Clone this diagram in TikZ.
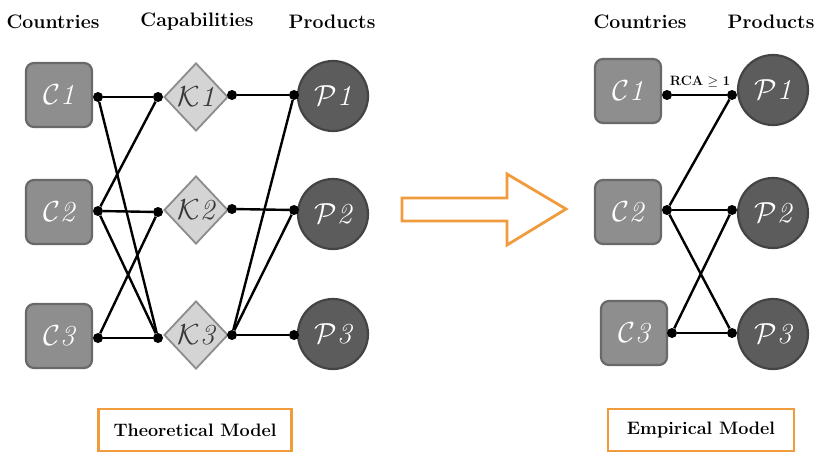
\RequirePackage{fix-cm}
\documentclass[tikz,border=0pt]{standalone}
\usepackage{fontspec}
\usetikzlibrary{shapes.geometric}
\definecolor{cfill}{RGB}{142,142,142}
\definecolor{cdraw}{RGB}{105,105,105}
\definecolor{pfill}{RGB}{92,92,92}
\definecolor{pdraw}{RGB}{68,68,68}
\definecolor{kfill}{RGB}{212,212,212}
\definecolor{kdraw}{RGB}{140,140,140}
\definecolor{ktext}{RGB}{55,55,55}
\definecolor{orng}{RGB}{240,155,60}
\newcommand{\hdrfont}{\fontsize{19.5}{22}\selectfont\bfseries}
\newcommand{\lblfont}{\fontsize{29}{31}\selectfont}
\newcommand{\mdlfont}{\fontsize{18}{20}\selectfont\bfseries}
\tikzset{
  cbox/.style={draw=cdraw, fill=cfill, line width=2.2pt, rounded corners=8pt, minimum width=66pt, minimum height=64pt, inner sep=0pt, text=white, font=\lblfont},
  pcirc/.style={circle, draw=pdraw, fill=pfill, line width=2.2pt, minimum size=70pt, inner sep=0pt, text=white, font=\lblfont},
  kdia/.style={diamond, draw=kdraw, fill=kfill, line width=1.8pt, minimum width=64pt, minimum height=68pt, inner sep=0pt, text=ktext, font=\lblfont},
  dot/.style={circle, fill=black, inner sep=0pt, minimum size=10pt},
  link/.style={line width=2.4pt},
  hdr/.style={font=\hdrfont},
  modelbox/.style={draw=orng, line width=2.8pt, fill=white, minimum height=42pt, font=\mdlfont},
}
\begin{document}
\begin{tikzpicture}[x=1pt,y=-1pt]
\useasboundingbox (0,0) rectangle (820,463);
% headers
\node[hdr] (hc) at (53,22) {Countries};
\node[hdr] (hk) at (197,22) {Capabilities};
\node[hdr] (hp) at (332,22) {Products};
\node[hdr] (hc2) at (640,22) {Countries};
\node[hdr] (hp2) at (771,22) {Products};
% left model nodes
\node[cbox] (c1) at (59,95) {$\mathcal{C}\mathit{1}$};
\node[cbox] (c2) at (59,212) {$\mathcal{C}\mathit{2}$};
\node[cbox] (c3) at (59,336) {$\mathcal{C}\mathit{3}$};
\node[kdia] (k1) at (196,97) {$\mathcal{K}\mathit{1}$};
\node[kdia] (k2) at (196,210) {$\mathcal{K}\mathit{2}$};
\node[kdia] (k3) at (196,335) {$\mathcal{K}\mathit{3}$};
\node[pcirc] (p1) at (333,96) {$\mathcal{P}\mathit{1}$};
\node[pcirc] (p2) at (333,214) {$\mathcal{P}\mathit{2}$};
\node[pcirc] (p3) at (333,334) {$\mathcal{P}\mathit{3}$};
% dots
\node[dot] (c1d) at (98,97) {};
\node[dot] (c2d) at (98,211) {};
\node[dot] (c3d) at (98,338) {};
\node[dot] (k1l) at (158,97) {};
\node[dot] (k2l) at (158,212) {};
\node[dot] (k3l) at (158,338) {};
\node[dot] (k1r) at (232,95) {};
\node[dot] (k2r) at (232,209) {};
\node[dot] (k3r) at (232,335) {};
\node[dot] (p1d) at (294,95) {};
\node[dot] (p2d) at (294,210) {};
\node[dot] (p3d) at (294,335) {};
% links
\draw[link] (c1d) -- (k1l);
\draw[link] (c1d) -- (k3l);
\draw[link] (c2d) -- (k1l);
\draw[link] (c2d) -- (k2l);
\draw[link] (c2d) -- (k3l);
\draw[link] (c3d) -- (k2l);
\draw[link] (c3d) -- (k3l);
\draw[link] (k1r) -- (p1d);
\draw[link] (k2r) -- (p2d);
\draw[link] (k3r) -- (p1d);
\draw[link] (k3r) -- (p2d);
\draw[link] (k3r) -- (p3d);
% theoretical model label
\node[modelbox, minimum width=193pt] (tm) at (195,430) {Theoretical Model};
% arrow
\draw[draw=orng, line width=2.8pt, line join=miter] (402,198) -- (507,198) -- (507,174) -- (566,209) -- (507,245) -- (507,221) -- (402,221) -- cycle;
% right model nodes
\node[cbox] (e1) at (628,91) {$\mathcal{C}\mathit{1}$};
\node[cbox] (e2) at (628,212) {$\mathcal{C}\mathit{2}$};
\node[cbox] (e3) at (634,333) {$\mathcal{C}\mathit{3}$};
\node[pcirc] (q1) at (773,90) {$\mathcal{P}\mathit{1}$};
\node[pcirc] (q2) at (773,213) {$\mathcal{P}\mathit{2}$};
\node[pcirc] (q3) at (773,334) {$\mathcal{P}\mathit{3}$};
\node[dot] (e1d) at (667,95) {};
\node[dot] (e2d) at (667,210) {};
\node[dot] (e3d) at (672,333) {};
\node[dot] (q1d) at (732,95) {};
\node[dot] (q2d) at (732,210) {};
\node[dot] (q3d) at (732,333) {};
\draw[link] (e1d) -- (q1d);
\draw[link] (e2d) -- (q1d);
\draw[link] (e2d) -- (q2d);
\draw[link] (e2d) -- (q3d);
\draw[link] (e3d) -- (q2d);
\draw[link] (e3d) -- (q3d);
\node[font=\fontsize{13.5}{15}\selectfont] (rca) at (700,82) {\textbf{RCA} $\geq$ \textbf{1}};
\node[modelbox, minimum width=186pt] (em) at (701,430) {Empirical Model};
\end{tikzpicture}
\end{document}
